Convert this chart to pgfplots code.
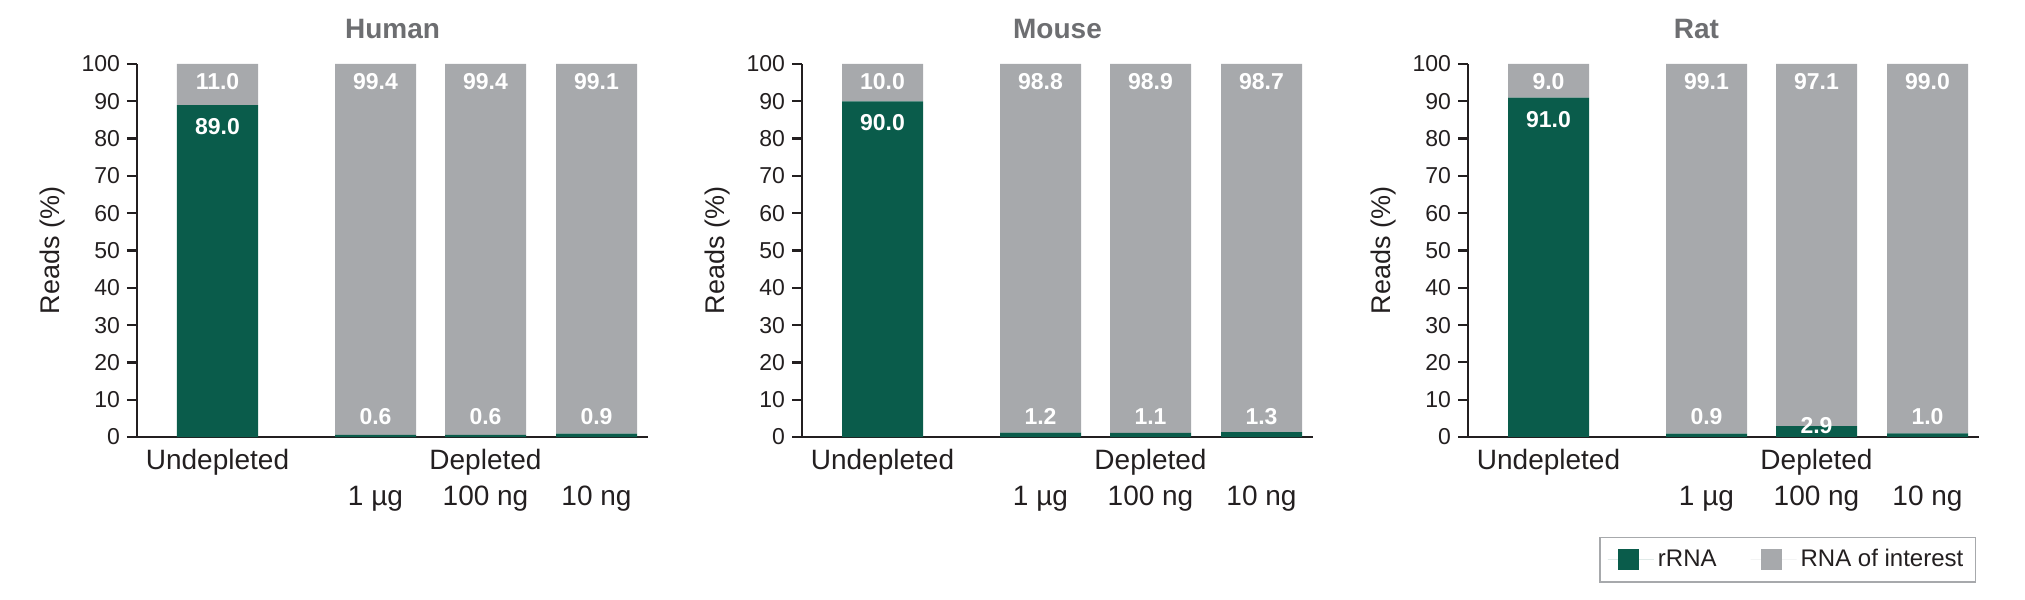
\documentclass[border=0pt]{standalone}
\usepackage{pgfplots}
\pgfplotsset{compat=1.18}
\usepackage{pgfplotstable}
\usepackage{fontspec}
\setmainfont{Liberation Sans}

\definecolor{rrna}{HTML}{0A5C4B}
\definecolor{roi}{HTML}{A7A9AC}
\definecolor{ink}{HTML}{231F20}
\definecolor{ttl}{HTML}{6D6E71}

% bars: x position, rRNA, RNA of interest
\pgfplotstableread{
x   rrna  roi
0   89.0  11.0
158 0.6   99.4
268 0.6   99.4
379 0.9   99.1
}\humanbars
\pgfplotstableread{
x   rrna  roi
0   90.0  10.0
158 1.2   98.8
268 1.1   98.9
379 1.3   98.7
}\mousebars
\pgfplotstableread{
x   rrna  roi
0   91.0  9.0
158 0.9   99.1
268 2.9   97.1
379 1.0   99.0
}\ratbars

% value labels: x, y where the label sits, text
\pgfplotstableread{
x   y     lab
0   95.2  11.0
158 95.2  99.4
268 95.2  99.4
379 95.2  99.1
0   83.2  89.0
158 5.4   0.6
268 5.4   0.6
379 5.4   0.9
}\humanlabs
\pgfplotstableread{
x   y     lab
0   95.2  10.0
158 95.2  98.8
268 95.2  98.9
379 95.2  98.7
0   84.2  90.0
158 5.4   1.2
268 5.4   1.1
379 5.4   1.3
}\mouselabs
\pgfplotstableread{
x   y     lab
0   95.2  9.0
158 95.2  99.1
268 95.2  97.1
379 95.2  99.0
0   85.2  91.0
158 5.4   0.9
268 3.1   2.9
379 5.4   1.0
}\ratlabs

\pgfplotsset{
  frame/.style={
    anchor=south west,
    width=255.5pt, height=186.5pt, scale only axis,
    xmin=-80.5, xmax=430.5, ymin=0, ymax=100,
  },
  panel/.style={
    frame,
    ybar stacked, bar width=81,
    axis x line*=bottom, axis y line*=left,
    axis line style={ink, line width=1.1pt},
    ytick={0,10,...,100},
    tick align=outside, major tick length=5pt,
    ytick style={ink, line width=1.1pt},
    xtick={0,158,268,379},
    xticklabels={{\strut Undepleted}, {\strut\\1 µg}, {\strut Depleted\\100 ng}, {\strut\\10 ng}},
    xtick style={draw=none},
    xticklabel style={align=center, anchor=north, text=ink, yshift=5pt,
      font=\fontsize{14}{18}\selectfont},
    yticklabel style={text=ink, font=\fontsize{11.5}{13.8}\selectfont},
    /pgf/number format/assume math mode=true,
    ylabel={Reads (\%)},
    ylabel style={at={(axis description cs:-0.166,0.5)}, anchor=center,
      text=ink, font=\fontsize{13.5}{16}\selectfont},
    title style={at={(axis description cs:0.5,1)}, anchor=center,
      yshift=11.6pt, text=ttl, font=\bfseries\fontsize{14}{17}\selectfont},
  },
  labels/.style={
    frame, hide axis,
  },
  vals/.style={
    draw=none, mark=none,
    nodes near coords, point meta=explicit symbolic,
    nodes near coords style={anchor=center, text=white,
      font=\bfseries\fontsize{11.5}{13.8}\selectfont},
  },
}

\begin{document}
\begin{tikzpicture}
\useasboundingbox (0,0) rectangle (1012.5pt,300pt);

% Human
\begin{axis}[panel, at={(68.5pt,81.5pt)}, title={Human}]
  \addplot[fill=rrna, draw=none] table[x=x, y=rrna] {\humanbars};
  \addplot[fill=roi, draw=none] table[x=x, y=roi] {\humanbars};
\end{axis}
\begin{axis}[labels, at={(68.5pt,81.5pt)}]
  \addplot[vals] table[x=x, y=y, meta=lab] {\humanlabs};
\end{axis}

% Mouse
\begin{axis}[panel, at={(401pt,81.5pt)}, title={Mouse}]
  \addplot[fill=rrna, draw=none] table[x=x, y=rrna] {\mousebars};
  \addplot[fill=roi, draw=none] table[x=x, y=roi] {\mousebars};
\end{axis}
\begin{axis}[labels, at={(401pt,81.5pt)}]
  \addplot[vals] table[x=x, y=y, meta=lab] {\mouselabs};
\end{axis}

% Rat, carries the legend
\begin{axis}[panel, at={(734pt,81.5pt)}, title={Rat},
    title style={xshift=-13.5pt},
    legend columns=2,
    legend style={at={(axis description cs:0.994,-0.268)}, anchor=north east,
      draw=roi, line width=0.6pt, text=ink,
      font=\fontsize{12}{14}\selectfont,
      inner xsep=4pt, inner ysep=4pt,
      /tikz/every even column/.append style={column sep=15pt}},
    legend image code/.code={\fill[#1] (0pt,-5.25pt) rectangle (10.5pt,5.25pt);
      \path (-5pt,0pt) -- (18pt,0pt);},
  ]
  \addplot[fill=rrna, draw=none] table[x=x, y=rrna] {\ratbars};
  \addlegendentry{rRNA}
  \addplot[fill=roi, draw=none] table[x=x, y=roi] {\ratbars};
  \addlegendentry{RNA of interest}
\end{axis}
\begin{axis}[labels, at={(734pt,81.5pt)}]
  \addplot[vals] table[x=x, y=y, meta=lab] {\ratlabs};
\end{axis}
\end{tikzpicture}
\end{document}
